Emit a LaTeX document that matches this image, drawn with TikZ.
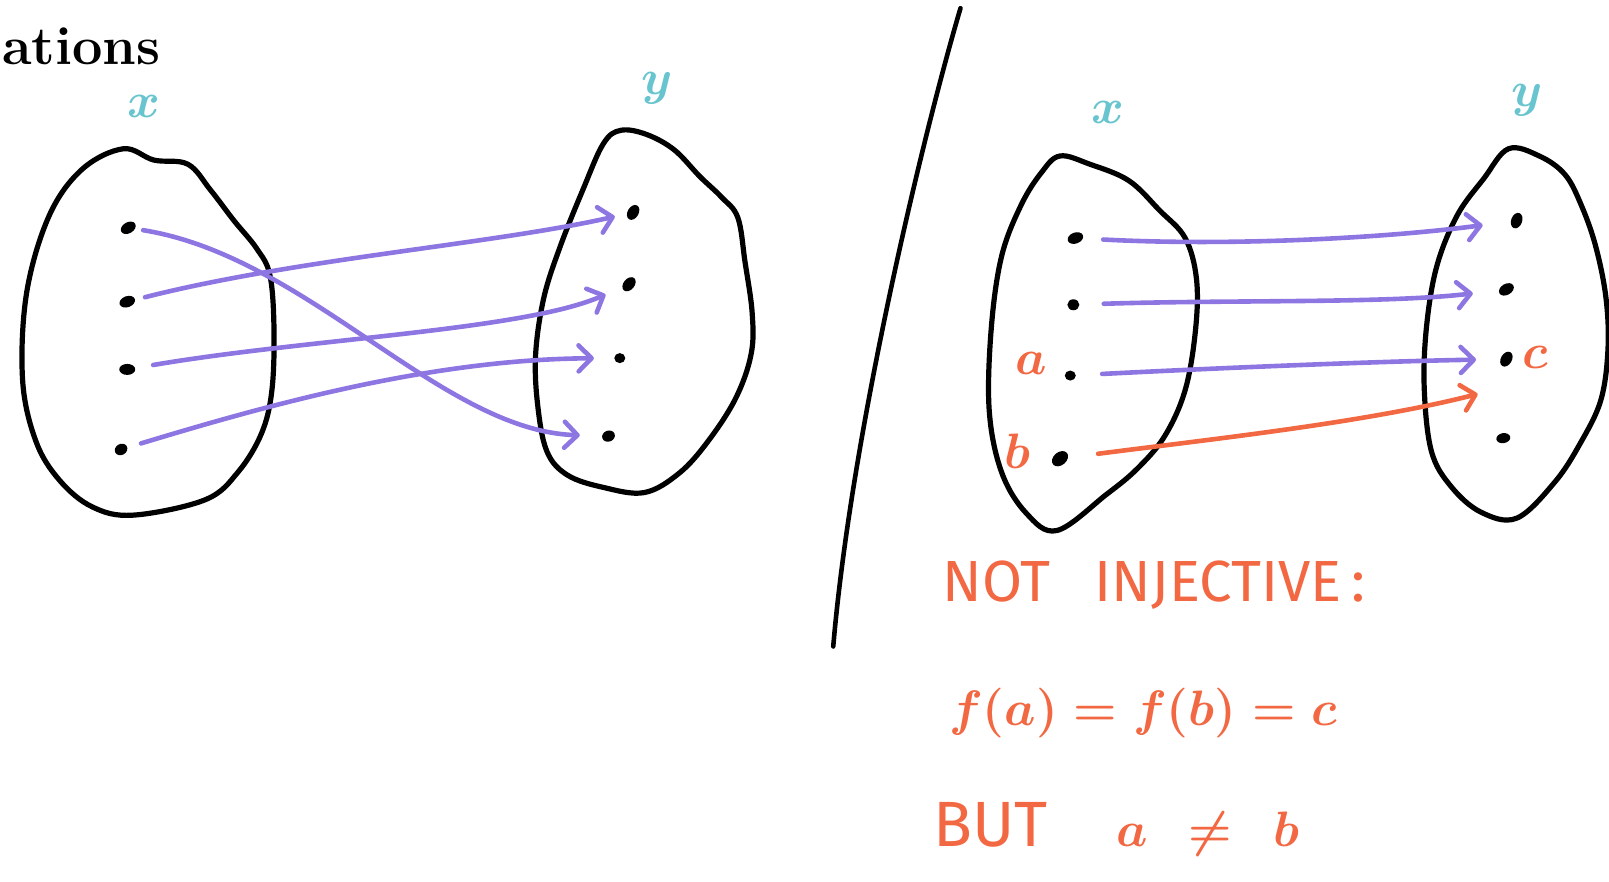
\documentclass[tikz,border=0pt]{standalone}
\usepackage{fontspec}
\setsansfont{Fira Sans}
\usetikzlibrary{arrows.meta,shapes.geometric}
\definecolor{hred}{RGB}{242,104,66}
\definecolor{hpurple}{RGB}{142,118,226}
\definecolor{hcyan}{RGB}{104,196,206}
\begin{document}
\begin{tikzpicture}[x=0.513pt,y=-0.513pt,
  blob/.style={line width=2.6pt, line join=round, black},
  dot/.style={ellipse, fill=black, inner sep=0pt, minimum width=8pt, minimum height=5.5pt},
  arr/.style={hpurple, line width=2.3pt, line cap=round, -{Straight Barb[length=6.5pt,width=13pt,round]}},
  rarr/.style={arr, hred},
  setlabel/.style={hcyan, font=\fontsize{40}{40}\selectfont\boldmath},
  ptlabel/.style={hred, font=\fontsize{32}{32}\selectfont\boldmath},
  note/.style={hred, anchor=west}]
\useasboundingbox (0,0) rectangle (1568,859);

% title fragment
\node[anchor=west, inner sep=0pt, font=\fontsize{27}{27}\selectfont\bfseries] (title) at (2,45) {ations};

% ---------- left picture ----------
\node[setlabel] (xA) at (140,104) {$x$};
\node[setlabel] (yA) at (640,86) {$y$};
\draw[blob] plot[smooth cycle, tension=0.6] coordinates {
  (120,145) (150,156) (183,160) (205,185) (228,215) (250,242) (263,268) (267,320)
  (265,380) (255,422) (232,460) (200,487) (130,502) (90,494) (58,468) (35,430)
  (22,370) (26,285) (48,210) (80,165)};
\draw[blob] plot[smooth cycle, tension=0.6] coordinates {
  (605,127) (630,131) (657,146) (682,172) (703,192) (719,212) (726,255) (733,305)
  (732,345) (717,388) (690,430) (662,461) (628,480) (588,475) (553,463) (533,440)
  (524,395) (522,345) (530,290) (546,240) (568,185) (588,140)};

\node[dot, rotate=30] (L1) at (125,222) {};
\node[dot, rotate=20] (L2) at (124,294) {};
\node[dot] (L3) at (124,360) {};
\node[dot, rotate=30, minimum width=6.5pt] (L4) at (118,438) {};
\node[dot, rotate=60] (R1) at (617,207) {};
\node[dot, rotate=50] (R2) at (613,277) {};
\node[dot, minimum width=5.5pt, minimum height=5pt] (R3) at (604,349) {};
\node[dot, rotate=20, minimum width=6.5pt] (R4) at (593,425) {};

\draw[arr, shorten <=4pt, shorten >=11pt] (L1) .. controls (300,250) and (430,420) .. (R4);
\draw[arr, shorten <=5pt, shorten >=6pt] (L2) .. controls (290,252) and (480,238) .. (R1);
\draw[arr, shorten <=9pt, shorten >=9pt] (L3) .. controls (300,330) and (510,322) .. (R2);
\draw[arr, shorten <=7pt, shorten >=10pt] (L4) .. controls (260,395) and (420,350) .. (R3);

% divider
\draw[line width=2.3pt, line cap=round] (936,8) .. controls (900,130) and (830,420) .. (812,630);

% ---------- right picture ----------
\node[setlabel] (xB) at (1080,110) {$x$};
\node[setlabel] (yB) at (1488,98) {$y$};
\draw[blob] plot[smooth cycle, tension=0.6] coordinates {
  (1033,152) (1062,160) (1100,176) (1130,205) (1155,232) (1166,272) (1165,322)
  (1155,380) (1135,425) (1108,457) (1078,482) (1030,517) (1000,500) (976,460)
  (964,400) (966,320) (976,250) (995,200) (1015,168)};
\draw[blob] plot[smooth cycle, tension=0.6] coordinates {
  (1470,145) (1500,152) (1525,170) (1541,200) (1555,240) (1565,290) (1567,340)
  (1560,390) (1540,432) (1515,470) (1478,505) (1443,499) (1414,474) (1395,440)
  (1388,380) (1390,320) (1400,260) (1420,210) (1446,174)};

\node[dot, rotate=20] (P1) at (1048,232) {};
\node[dot, minimum width=6pt, minimum height=5.5pt] (P2) at (1046,297) {};
\node[dot, minimum width=5.5pt, minimum height=5pt] (P3) at (1043,366) {};
\node[dot, rotate=40, minimum width=9pt, minimum height=6.5pt] (P4) at (1033,447) {};
\node[dot, rotate=70] (Q1) at (1478,215) {};
\node[dot, rotate=30] (Q2) at (1468,282) {};
\node[dot, rotate=60] (Q3) at (1468,350) {};
\node[dot, rotate=10, minimum width=7pt, minimum height=5pt] (Q4) at (1465,427) {};
\coordinate (redEnd) at (1440,384);

\node[ptlabel] (la) at (1005,354) {$a$};
\node[ptlabel] (lb) at (992,440) {$b$};
\node[ptlabel] (lc) at (1496,348) {$c$};

\draw[arr, shorten <=10pt, shorten >=14pt] (P1) .. controls (1200,240) and (1350,232) .. (Q1);
\draw[arr, shorten <=12pt, shorten >=13pt] (P2) .. controls (1200,292) and (1350,296) .. (Q2);
\draw[arr, shorten <=13pt, shorten >=12pt] (P3) .. controls (1200,358) and (1350,352) .. (Q3);
\draw[rarr, shorten <=15pt] (P4) .. controls (1180,428) and (1330,412) .. (redEnd);

% notes
\node[note, font=\fontsize{29}{30}\sffamily\selectfont] (n1) at (912,570) {NOT\hspace{22pt}INJECTIVE\,:};
\node[note, font=\fontsize{42}{42}\selectfont\boldmath] (n2) at (918,695) {$f(a) = f(b) = c$};
\node[note] (n3) at (903,808) {{\fontsize{32}{32}\sffamily\selectfont BUT}\hspace{34pt}{\fontsize{44}{44}\selectfont\boldmath$a \mskip8mu\neq\mskip8mu b$}};
\end{tikzpicture}
\end{document}
